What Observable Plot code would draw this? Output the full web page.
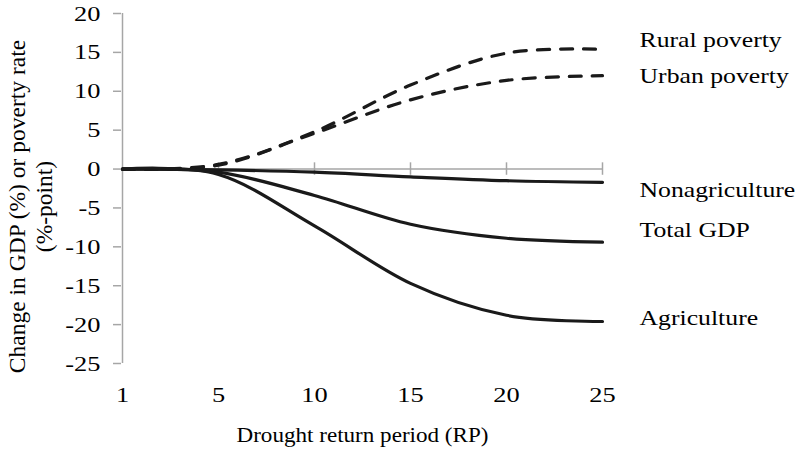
<!DOCTYPE html>
<html><head><meta charset="utf-8">
<script src="https://cdn.jsdelivr.net/npm/d3@7"></script>
<script src="https://cdn.jsdelivr.net/npm/@observablehq/plot@0.6"></script>
<style>body{margin:0;background:#fff}</style>
</head><body><div id="chart"></div>
<script>
// ---- data ----
const returnPeriods = [1, 5, 10, 15, 20, 25];
const ruralPoverty   = [0, 0.6, 4.8, 10.8, 14.9, 15.4];
const urbanPoverty   = [0, 0.5, 4.6, 8.9, 11.4, 12.0];
const nonagriculture = [0, -0.1, -0.4, -1.0, -1.5, -1.7];
const totalGDP       = [0, -0.4, -3.4, -7.1, -8.9, -9.4];
const agriculture    = [0, -0.7, -7.3, -14.7, -18.8, -19.6];
const yTicks = [-25, -20, -15, -10, -5, 0, 5, 10, 15, 20];
const seriesNames = ["Rural poverty", "Urban poverty", "Nonagriculture", "Total GDP", "Agriculture"];
const seriesValues = [ruralPoverty, urbanPoverty, nonagriculture, totalGDP, agriculture];
const dashedSeries = ["Rural poverty", "Urban poverty"];
const xTitle = "Drought return period (RP)";
const yTitle = "Change in GDP (%) or poverty rate\n(%-point)";

const rows = seriesNames.flatMap((name, k) =>
  seriesValues[k].map((v, i) => ({series: name, rp: returnPeriods[i], value: v})));
const ends = seriesNames.map((name, k) => ({series: name, rp: returnPeriods[returnPeriods.length - 1], value: seriesValues[k][seriesValues[k].length - 1]}));

// label vertical nudges (px)
const labelDy = {"Rural poverty": -9, "Urban poverty": 0, "Nonagriculture": 8, "Total GDP": -12, "Agriculture": -4};

const gray = "#a6a6a6";
const ink = "#1a1a1a";
const font = 22;

const chart = Plot.plot({
  width: 799, height: 458,
  marginLeft: 121, marginRight: 196, marginTop: 13, marginBottom: 95,
  x: {type: "point", domain: returnPeriods, padding: 0, axis: null},
  y: {domain: [-25, 20]},
  style: {fontFamily: "'Liberation Serif', 'Times New Roman', serif", fontSize: font + "px", background: "#fff", color: "#000", overflow: "visible"},
  marks: [
    Plot.ruleY([0], {stroke: gray, strokeWidth: 1.5}),
    Plot.ruleX(returnPeriods.slice(1), {x: d => d, y1: -0.8, y2: 0.8, stroke: gray, strokeWidth: 1.5}),
    Plot.ruleX([returnPeriods[0]], {x: d => d, y1: -25, y2: 20, stroke: gray, strokeWidth: 1.5}),
    Plot.axisY({ticks: yTicks, tickSize: 8, tickPadding: 13, stroke: gray, strokeWidth: 1.5, fill: "#000", tickFormat: d => String(d), fontSize: font, label: null}),
    Plot.text(returnPeriods, {x: d => d, frameAnchor: "bottom", dy: 38, text: d => String(d), fontSize: font, fill: "#000"}),
    Plot.line(rows.filter(d => dashedSeries.includes(d.series)), {x: "rp", y: "value", z: "series", curve: "cardinal", stroke: ink, strokeWidth: 3.2, strokeDasharray: "12,11"}),
    Plot.line(rows.filter(d => !dashedSeries.includes(d.series)), {x: "rp", y: "value", z: "series", curve: "cardinal", stroke: ink, strokeWidth: 3.2}),
    ...seriesNames.map(name => Plot.text(ends.filter(d => d.series === name), {x: "rp", y: "value", text: "series", textAnchor: "start", dx: 37, dy: labelDy[name], fontSize: font, fill: "#000"})),
    Plot.text([xTitle], {frameAnchor: "bottom", dy: 78, text: d => d, fontSize: 21, fill: "#000"}),
    Plot.text([yTitle], {frameAnchor: "left", textAnchor: "middle", lineAnchor: "middle", dx: -91.5, dy: 18, rotate: -90, text: d => d, fontSize: 23.5, lineHeight: 1.15, fill: "#000"})
  ]
});
document.getElementById("chart").appendChild(chart);

// horizontal glyph stretch to match the reference's wide lettering
try {
  const yTickSet = new Set(yTicks.map(String));
  const xTickSet = new Set(returnPeriods.map(String));
  chart.querySelectorAll("text").forEach(el => {
    if (el.querySelector("tspan")) return; // multi-line rotated title
    const t = el.textContent;
    const anchor = getComputedStyle(el).textAnchor;
    let sx = 1;
    if (seriesNames.includes(t)) sx = 1.17;
    else if (t === xTitle) sx = 1.1;
    else if (anchor === "end" && yTickSet.has(t)) sx = 1.2;
    else if (xTickSet.has(t)) sx = 1.2;
    if (sx === 1) return;
    const b = el.getBBox();
    const ax = anchor === "end" ? b.x + b.width : anchor === "middle" ? b.x + b.width / 2 : b.x;
    const prev = el.getAttribute("transform") || "";
    el.setAttribute("transform", `${prev} translate(${ax},0) scale(${sx},1) translate(${-ax},0)`);
  });
} catch (e) {
  const p = document.createElement("pre"); p.textContent = String(e); document.body.appendChild(p);
}
</script>
</body></html>
